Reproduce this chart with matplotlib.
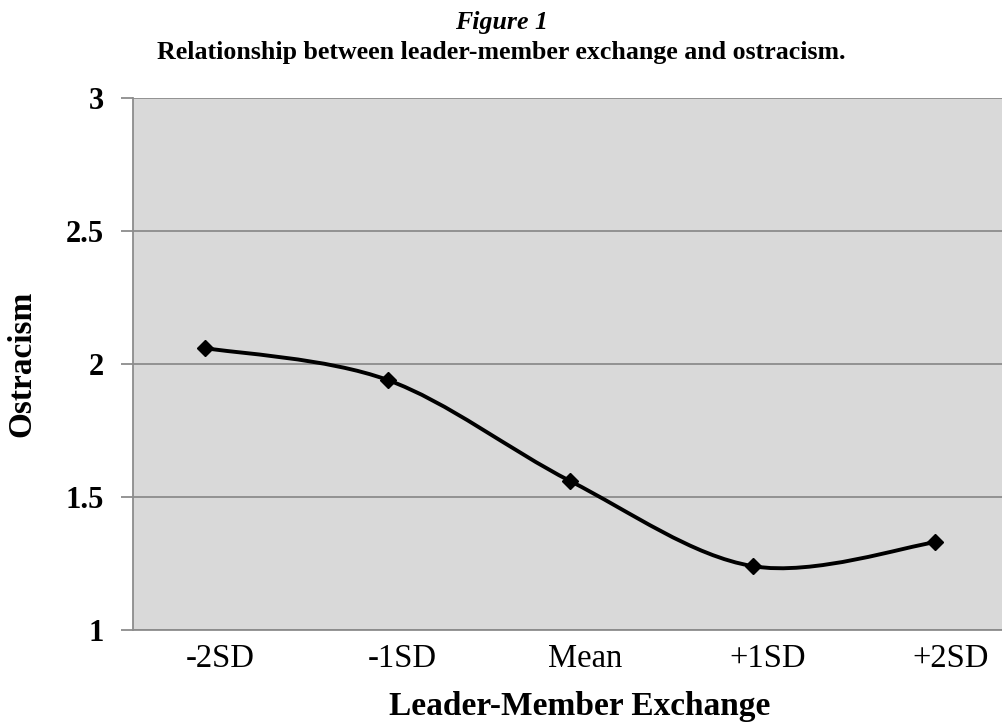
import numpy as np
import matplotlib
matplotlib.use("Agg")
import matplotlib.pyplot as plt
from matplotlib.path import Path
from matplotlib.patches import PathPatch
from matplotlib.transforms import ScaledTranslation

categories = ["-2SD", "-1SD", "Mean", "+1SD", "+2SD"]
ostracism = [2.06, 1.94, 1.56, 1.24, 1.33]
y_ticks = [1, 1.5, 2, 2.5, 3]
y_tick_labels = ["1", "1.5", "2", "2.5", "3"]

plt.rcParams["font.family"] = ["Liberation Serif", "DejaVu Serif"]


# Excel-style smoothed line as cubic Bezier segments (Catmull-Rom control points)
def smooth_path(xs, ys):
    pts = np.column_stack([xs, ys]).astype(float)
    n = len(pts)
    verts = [pts[0]]
    codes = [Path.MOVETO]
    for i in range(n - 1):
        p0 = pts[max(i - 1, 0)]
        p1 = pts[i]
        p2 = pts[i + 1]
        p3 = pts[min(i + 2, n - 1)]
        c1 = p1 + (p2 - p0) / 6.0
        c2 = p2 - (p3 - p1) / 6.0
        verts += [c1, c2, p2]
        codes += [Path.CURVE4] * 3
    return Path(verts, codes)


fig = plt.figure(figsize=(10.03, 7.27), dpi=100)
ax = fig.add_axes([133 / 1003, 1 - 630 / 727, 1 - 133 / 1003, (630 - 98) / 727])
ax.set_facecolor("#d9d9d9")

x = np.arange(len(categories))
ax.add_patch(PathPatch(smooth_path(x, ostracism), fill=False, edgecolor="black",
                       lw=2.8, capstyle="round", joinstyle="round", zorder=3))
ax.plot(x, ostracism, linestyle="none", marker="D", markersize=8.5,
        color="black", zorder=4)

ax.set_xlim(-0.394, 4.37)
ax.set_ylim(1, 3)
ax.set_yticks(y_ticks)
ax.set_yticklabels(y_tick_labels, fontsize=22, fontweight="bold")
ax.set_xticks(x)
ax.set_xticklabels(categories, fontsize=23.5)
ax.yaxis.grid(True, color="#8c8c8c", lw=1.3)
ax.set_axisbelow(True)
ax.tick_params(axis="y", length=9, width=1.3, color="#8c8c8c", pad=12)
ax.tick_params(axis="x", length=0, pad=10)

# category labels sit a little right of the data points in the original
shift = ScaledTranslation(15 / 100, 0, fig.dpi_scale_trans)
for lbl in ax.get_xticklabels():
    lbl.set_transform(lbl.get_transform() + shift)

for side in ["top", "right"]:
    ax.spines[side].set_visible(False)
for side in ["left", "bottom"]:
    ax.spines[side].set_color("#8c8c8c")
    ax.spines[side].set_linewidth(1.3)

ax.set_xlabel("Leader-Member Exchange", fontsize=24, fontweight="bold", labelpad=12)
ax.xaxis.label.set_transform(ax.xaxis.label.get_transform() + ScaledTranslation(12 / 100, 0, fig.dpi_scale_trans))
ax.set_ylabel("Ostracism", fontsize=24, fontweight="bold", labelpad=20)

fig.text(0.5, 1 - 23 / 727, "Figure 1", ha="center", va="center",
         fontsize=18.6, fontweight="bold", fontstyle="italic")
fig.text(0.5, 1 - 52 / 727, "Relationship between leader-member exchange and ostracism.",
         ha="center", va="center", fontsize=18.6, fontweight="bold")

fig.savefig("out.png", dpi=100)
